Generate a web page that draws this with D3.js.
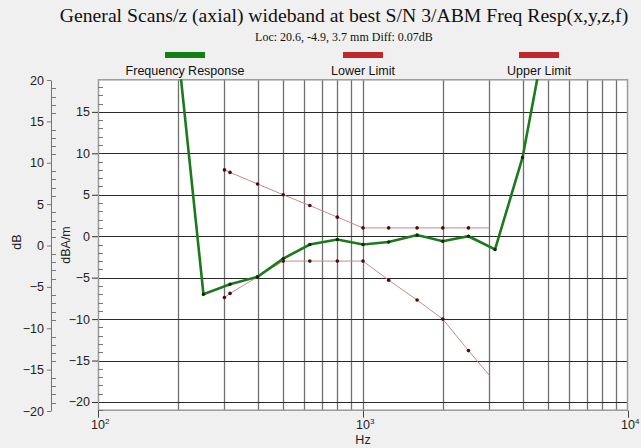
<!DOCTYPE html>
<html>
<head>
<meta charset="utf-8">
<script src="https://cdn.jsdelivr.net/npm/d3@7"></script>
<style>
  body { margin: 0; padding: 0; background: #f0f0f0; }
  svg { display: block; }
</style>
</head>
<body>
<div id="main"></div>
<script>
const TITLE = 'General Scans/z (axial) wideband at best S/N 3/ABM Freq Resp(x,y,z,f)';
const SUBTITLE = 'Loc: 20.6, -4.9, 3.7 mm Diff: 0.07dB';
const legendNames = ['Frequency Response', 'Lower Limit', 'Upper Limit'];
const legendColours = ['#138013', '#c0282c', '#c0282c'];

// frequency response (Hz, dB)
const respFreq = [200, 250, 315, 400, 500, 630, 800, 1000, 1250, 1600, 2000, 2500, 3150, 4000, 5000];
const respDb = [22.7, -7.0, -5.8, -4.9, -2.7, -1.0, -0.4, -1.0, -0.7, 0.15, -0.6, 0.0, -1.6, 9.5, 26];

const upperFreq = [300, 315, 400, 500, 630, 800, 1000, 1250, 1600, 2000, 2500, 3000];
const upperDb = [8.0, 7.7, 6.3, 5.0, 3.7, 2.3, 1.0, 1.0, 1.0, 1.0, 1.0, 1.0];

const lowerFreq = [300, 315, 400, 500, 630, 800, 1000, 1250, 1600, 2000, 2500, 3000];
const lowerDb = [-7.4, -6.9, -4.9, -3.0, -3.0, -3.0, -3.0, -5.3, -7.7, -10.0, -13.8, -16.8];

const xTickValues = [100, 1000, 10000];
const xTickExp = ['2', '3', '4'];
const yTickValues = [-20, -15, -10, -5, 0, 5, 10, 15];
const outerTickValues = [-20, -15, -10, -5, 0, 5, 10, 15, 20];

const W = 641, H = 448;
const PL = 98, PR = 628, PT = 79.3, PB = 410.7;
const SANS = '"Liberation Sans", Arial, sans-serif';
const SERIF = '"Liberation Serif", "Times New Roman", serif';

const svg = d3.select('#main').append('svg').attr('width', W).attr('height', H)
    .style('background', '#f0f0f0');

const x = d3.scaleLog().domain([100, 10000]).range([PL, PR]);
const y = d3.scaleLinear().domain([-21.05, 18.93]).range([PB, PT]);
const yOuter = d3.scaleLinear().domain([-20, 20]).range([411, 80]);

// titles
svg.append('text').attr('x', 344).attr('y', 22).attr('text-anchor', 'middle')
    .style('font-family', SERIF).style('font-size', '19.7px')
    .attr('fill', '#111').text(TITLE);
svg.append('text').attr('x', 344).attr('y', 41).attr('text-anchor', 'middle')
    .style('font-family', SERIF).style('font-size', '12px')
    .attr('fill', '#111').text(SUBTITLE);

// legend
const legendX = [185, 363, 539];
const legend = svg.append('g');
legend.selectAll('rect').data(legendNames).enter().append('rect')
    .attr('x', (d, i) => legendX[i] - 20).attr('y', 52).attr('width', 40).attr('height', 6)
    .attr('fill', (d, i) => legendColours[i]);
legend.selectAll('text').data(legendNames).enter().append('text')
    .attr('x', (d, i) => legendX[i]).attr('y', 75).attr('text-anchor', 'middle')
    .style('font-family', SANS).style('font-size', '12.5px')
    .attr('fill', '#111').text((d) => d);

// plot area
svg.append('rect').attr('x', PL).attr('y', PT).attr('width', PR - PL).attr('height', PB - PT)
    .attr('fill', '#fff');

// vertical grid
const gridFreqs = [];
[100, 1000].forEach((dec) => { for (let k = 2; k <= 9; k++) gridFreqs.push(dec * k); });
gridFreqs.push(1000);
svg.append('g').selectAll('line').data(gridFreqs).enter().append('line')
    .attr('x1', (d) => Math.round(x(d)) + 0.5).attr('x2', (d) => Math.round(x(d)) + 0.5)
    .attr('y1', PT).attr('y2', PB)
    .attr('stroke', '#707070').attr('stroke-width', 1.3);

// horizontal grid
svg.append('g').selectAll('line').data(yTickValues).enter().append('line')
    .attr('x1', PL).attr('x2', PR)
    .attr('y1', (d) => Math.round(y(d)) + 0.5).attr('y2', (d) => Math.round(y(d)) + 0.5)
    .attr('stroke', '#2a2a2a').attr('stroke-width', 1);

// plot border
svg.append('rect').attr('x', PL + 0.5).attr('y', PT + 0.5).attr('width', PR - PL - 1).attr('height', PB - PT - 1)
    .attr('fill', 'none').attr('stroke', '#9a9a9a').attr('stroke-width', 1.5);

// inner y axis
const innerAxis = svg.append('g').attr('transform', `translate(${PL},0)`)
    .call(d3.axisLeft(y).tickValues(yTickValues).tickSize(6).tickPadding(2));
innerAxis.select('.domain').remove();
innerAxis.selectAll('line').attr('stroke', '#333');
innerAxis.selectAll('text').style('font-family', SANS)
    .style('font-size', '12.5px').attr('fill', '#222');
const innerMinor = d3.range(-21, 19).filter((v) => v % 5 !== 0);
svg.append('g').selectAll('line').data(innerMinor).enter().append('line')
    .attr('x1', PL).attr('x2', PL + 5)
    .attr('y1', (d) => Math.round(y(d)) + 0.5).attr('y2', (d) => Math.round(y(d)) + 0.5)
    .attr('stroke', '#777');

// outer y axis
const outerAxis = svg.append('g').attr('transform', 'translate(51,0)')
    .call(d3.axisLeft(yOuter).tickValues(outerTickValues).tickSize(4).tickPadding(3).tickSizeOuter(0));
outerAxis.select('.domain').attr('stroke', '#777');
outerAxis.selectAll('line').attr('stroke', '#777');
outerAxis.selectAll('text').style('font-family', SANS)
    .style('font-size', '12.5px').attr('fill', '#222');
const outerMinor = d3.range(-20, 21).filter((v) => v % 5 !== 0);
svg.append('g').selectAll('line').data(outerMinor).enter().append('line')
    .attr('x1', 51).attr('x2', 56)
    .attr('y1', (d) => Math.round(yOuter(d)) + 0.5).attr('y2', (d) => Math.round(yOuter(d)) + 0.5)
    .attr('stroke', '#777');

// axis titles
svg.append('text').attr('transform', 'translate(21,242) rotate(-90)').attr('text-anchor', 'middle')
    .style('font-family', SANS).style('font-size', '12.5px')
    .attr('fill', '#222').text('dB');
svg.append('text').attr('transform', 'translate(70,245) rotate(-90)').attr('text-anchor', 'middle')
    .style('font-family', SANS).style('font-size', '12.5px')
    .attr('fill', '#222').text('dBA/m');

// x axis
const xAxis = svg.append('g').attr('transform', `translate(0,${PB})`);
xAxis.selectAll('line').data(xTickValues).enter().append('line')
    .attr('x1', (d) => Math.round(x(d)) + 0.5).attr('x2', (d) => Math.round(x(d)) + 0.5)
    .attr('y1', 0).attr('y2', 7).attr('stroke', '#444');
const xLabels = xAxis.selectAll('text').data(xTickValues).enter().append('text')
    .attr('x', (d) => x(d) - 7).attr('y', 18)
    .style('font-family', SANS).style('font-size', '12.5px')
    .attr('fill', '#222');
xLabels.append('tspan').text('10');
xLabels.append('tspan').attr('dy', -5).style('font-size', '8px').text((d, i) => xTickExp[i]);
svg.append('text').attr('x', x(1000)).attr('y', PB + 33).attr('text-anchor', 'middle')
    .style('font-family', SANS).style('font-size', '12.5px')
    .attr('fill', '#222').text('Hz');

// data
svg.append('clipPath').attr('id', 'plotClip').append('rect')
    .attr('x', PL).attr('y', PT).attr('width', PR - PL).attr('height', PB - PT);
const plot = svg.append('g').attr('clip-path', 'url(#plotClip)');
const line = d3.line().x((d) => x(d.f)).y((d) => y(d.v));

const upper = upperFreq.map((f, i) => ({f: f, v: upperDb[i]}));
const lower = lowerFreq.map((f, i) => ({f: f, v: lowerDb[i]}));
const resp = respFreq.map((f, i) => ({f: f, v: respDb[i]}));

[upper, lower].forEach((series) => {
    plot.append('path').datum(series).attr('d', line)
        .attr('fill', 'none').attr('stroke', '#c98a8a').attr('stroke-width', 1);
    plot.append('g').selectAll('circle').data(series.slice(0, -1)).enter().append('circle')
        .attr('cx', (d) => x(d.f)).attr('cy', (d) => y(d.v)).attr('r', 1.8)
        .attr('fill', '#4a0d0d');
});

plot.append('path').datum(resp).attr('d', line)
    .attr('fill', 'none').attr('stroke', '#1c7a1c').attr('stroke-width', 2.6);
plot.append('g').selectAll('circle').data(resp).enter().append('circle')
    .attr('cx', (d) => x(d.f)).attr('cy', (d) => y(d.v)).attr('r', 1.7)
    .attr('fill', '#0a2a0a');
</script>
</body>
</html>
